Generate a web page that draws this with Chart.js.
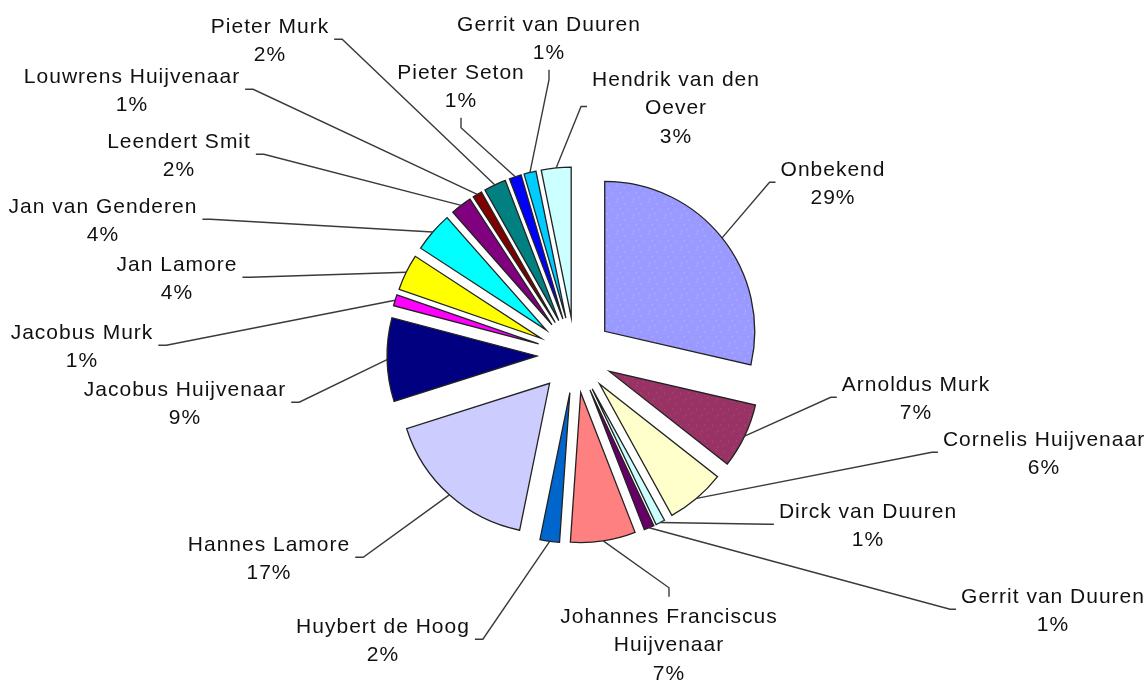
<!DOCTYPE html>
<html>
<head>
<meta charset="utf-8">
<script src="https://cdn.jsdelivr.net/npm/chart.js@4/dist/chart.umd.min.js"></script>
<style>
  html, body { margin: 0; padding: 0; background: #ffffff; }
  #wrap { width: 1147px; height: 687px; position: relative; }
</style>
</head>
<body>
<div id="wrap"><canvas id="c"></canvas></div>
<script>
// ---- data ----
const categories = [
  'Onbekend', 'Arnoldus Murk', 'Cornelis Huijvenaar', 'Dirck van Duuren', 'Gerrit van Duuren',
  'Johannes Franciscus Huijvenaar', 'Huybert de Hoog', 'Hannes Lamore', 'Jacobus Huijvenaar',
  'Jacobus Murk', 'Jan Lamore', 'Jan van Genderen', 'Leendert Smit', 'Louwrens Huijvenaar',
  'Pieter Murk', 'Pieter Seton', 'Gerrit van Duuren', 'Hendrik van den Oever'
];
const values = [28.6, 7.0, 6.4, 1.0, 1.1, 7.0, 2.1, 16.9, 9.0, 1.2, 3.9, 4.3, 2.3, 1.0, 2.4, 1.3, 1.3, 3.2];
const sliceColors = [
  '#9999FF', '#993366', '#FFFFCC', '#CCFFFF', '#660066', '#FF8080', '#0066CC', '#CCCCFF', '#000080',
  '#FF00FF', '#FFFF00', '#00FFFF', '#800080', '#800000', '#008080', '#0000FF', '#00CCFF', '#CCFFFF'
];
// how the label text is broken into lines
const labelLines = [
  ['Onbekend'], ['Arnoldus Murk'], ['Cornelis Huijvenaar'], ['Dirck van Duuren'], ['Gerrit van Duuren'],
  ['Johannes Franciscus', 'Huijvenaar'], ['Huybert de Hoog'], ['Hannes Lamore'], ['Jacobus Huijvenaar'],
  ['Jacobus Murk'], ['Jan Lamore'], ['Jan van Genderen'], ['Leendert Smit'], ['Louwrens Huijvenaar'],
  ['Pieter Murk'], ['Pieter Seton'], ['Gerrit van Duuren'], ['Hendrik van den', 'Oever']
];

// ---- layout (label placement: text centre x, first line y, side the leader attaches to) ----
const labelX    = [833, 916, 1044, 868, 1053, 669, 383, 269, 185, 82, 177, 103, 179, 132, 270, 461, 549, 676];
const labelY    = [170, 385, 440, 512, 597, 617, 627, 545, 390, 333, 265, 207, 142, 77, 27, 73, 25, 80];
const labelSide = ['left','left','left','left','left','top','right','right','right','right','right','right','right','right','right','bottom','bottom','left'];

const EXPLODE = 38;
const LINE_H = 28.5;
const FONT = '21px "Liberation Sans", Arial, sans-serif';

function dotPattern(base, dot) {
  const c = document.createElement('canvas');
  c.width = 16; c.height = 16;
  const g = c.getContext('2d');
  g.fillStyle = base; g.fillRect(0, 0, 16, 16);
  g.fillStyle = dot;
  [[2, 3], [10, 1], [6, 9], [14, 8], [1, 13], [11, 14]].forEach(p => g.fillRect(p[0], p[1], 1, 1));
  return g.createPattern(c, 'repeat');
}

const bg = sliceColors.slice();
bg[0] = dotPattern(sliceColors[0], '#c4c4ff');
bg[1] = dotPattern(sliceColors[1], '#b0587e');

const total = values.reduce((a, b) => a + b, 0);

const explodePlugin = {
  id: 'explode',
  beforeDatasetDraw(chart, args) {
    const ctx = chart.ctx;
    args.meta.data.forEach(arc => {
      const mid = (arc.startAngle + arc.endAngle) / 2;
      ctx.save();
      ctx.translate(Math.cos(mid) * EXPLODE, Math.sin(mid) * EXPLODE);
      arc.draw(ctx);
      ctx.restore();
    });
    return false;
  }
};

const labelPlugin = {
  id: 'pieLabels',
  afterDatasetsDraw(chart) {
    const ctx = chart.ctx;
    const meta = chart.getDatasetMeta(0);
    ctx.save();
    ctx.font = FONT;
    try { ctx.letterSpacing = '1px'; } catch (e) {}
    meta.data.forEach((arc, i) => {
      const mid = (arc.startAngle + arc.endAngle) / 2;
      const r = arc.outerRadius + EXPLODE;
      const sx = arc.x + Math.cos(mid) * r;
      const sy = arc.y + Math.sin(mid) * r;
      const pct = Math.round(values[i] / total * 100) + '%';
      const lines = labelLines[i].concat([pct]);
      const w = Math.max(...lines.map(t => ctx.measureText(t).width));
      const cx = labelX[i], y0 = labelY[i];
      const midY = y0 + (lines.length - 1) * LINE_H / 2 - 2;
      let ax, ay, ex, ey;
      const side = labelSide[i];
      if (side === 'left') { ax = cx - w / 2 - 5; ay = midY; ex = ax - 6; ey = ay; }
      else if (side === 'right') { ax = cx + w / 2 + 5; ay = midY; ex = ax + 8; ey = ay; }
      else if (side === 'top') { ax = cx; ay = y0 - LINE_H / 2 - 6; ex = ax; ey = ay - 9; }
      else { ax = cx; ay = y0 + (lines.length - 1) * LINE_H + LINE_H / 2 + 2; ex = ax; ey = ay + 10; }
      ctx.beginPath();
      ctx.moveTo(sx, sy);
      ctx.lineTo(ex, ey);
      ctx.lineTo(ax, ay);
      ctx.strokeStyle = '#3a3a3a';
      ctx.lineWidth = 1.4;
      ctx.stroke();
      ctx.fillStyle = '#111111';
      ctx.textAlign = 'center';
      ctx.textBaseline = 'middle';
      lines.forEach((t, k) => ctx.fillText(t, cx, y0 + k * LINE_H));
    });
    ctx.restore();
  }
};

new Chart(document.getElementById('c'), {
  type: 'pie',
  data: {
    labels: categories,
    datasets: [{
      data: values,
      backgroundColor: bg,
      borderColor: '#222222',
      borderWidth: 1.3,
      borderJoinStyle: 'miter',
      radius: 150
    }]
  },
  options: {
    responsive: true,
    maintainAspectRatio: false,
    animation: false,
    events: [],
    layout: { padding: { left: 3, right: 0, top: 23, bottom: 0 } },
    plugins: { legend: { display: false }, tooltip: { enabled: false } }
  },
  plugins: [explodePlugin, labelPlugin]
});
</script>
</body>
</html>
